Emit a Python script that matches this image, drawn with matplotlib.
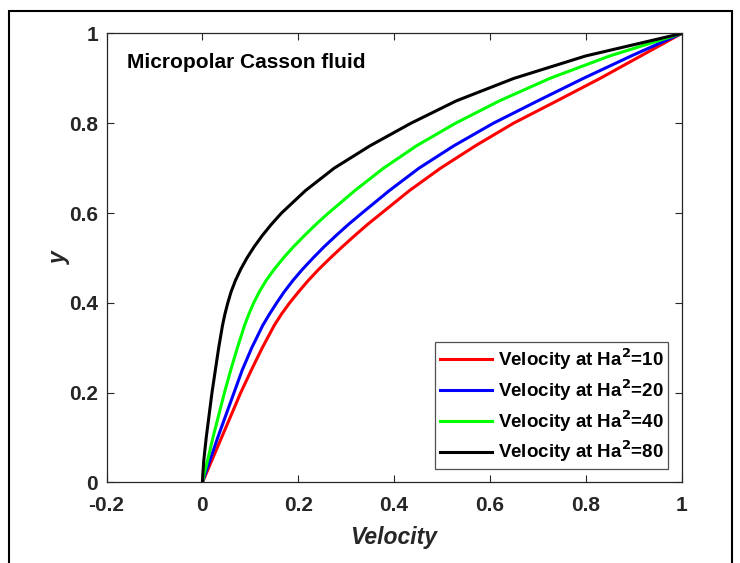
import matplotlib
matplotlib.use('Agg')
import matplotlib.pyplot as plt
from matplotlib.patches import Rectangle

plt.rcParams['font.family'] = ['Liberation Sans', 'DejaVu Sans']
plt.rcParams['font.weight'] = 'bold'

# y positions (vertical axis) at which velocities were read
y_vals = [0.0, 0.02, 0.05, 0.1, 0.15, 0.2, 0.25, 0.3, 0.35, 0.375, 0.4, 0.425, 0.45,
          0.475, 0.5, 0.525, 0.55, 0.575, 0.6, 0.65, 0.7, 0.75, 0.8, 0.85, 0.9, 0.95, 1.0]

# velocity profiles for each Hartmann number
vel_ha10 = [0.0, 0.008, 0.020, 0.040, 0.060, 0.080, 0.102, 0.125, 0.150, 0.165, 0.182, 0.201,
            0.221, 0.243, 0.267, 0.292, 0.318, 0.345, 0.374, 0.432, 0.497, 0.570, 0.649,
            0.740, 0.830, 0.915, 1.0]
vel_ha20 = [0.0, 0.006, 0.016, 0.032, 0.049, 0.066, 0.083, 0.103, 0.126, 0.140, 0.155, 0.171,
            0.189, 0.209, 0.231, 0.254, 0.279, 0.305, 0.333, 0.390, 0.452, 0.525, 0.607,
            0.700, 0.795, 0.895, 1.0]
vel_ha40 = [0.0, 0.004, 0.011, 0.022, 0.034, 0.046, 0.059, 0.073, 0.088, 0.097, 0.107, 0.119,
            0.133, 0.150, 0.169, 0.190, 0.213, 0.237, 0.263, 0.318, 0.378, 0.447, 0.528,
            0.620, 0.725, 0.850, 1.0]
vel_ha80 = [0.0, 0.001, 0.003, 0.008, 0.014, 0.020, 0.027, 0.034, 0.042, 0.047, 0.053, 0.060,
            0.069, 0.080, 0.093, 0.108, 0.125, 0.144, 0.165, 0.215, 0.275, 0.350, 0.435,
            0.530, 0.650, 0.800, 1.0]

labels = ['Velocity at Ha$^{\\mathbf{2}}$=10', 'Velocity at Ha$^{\\mathbf{2}}$=20',
          'Velocity at Ha$^{\\mathbf{2}}$=40', 'Velocity at Ha$^{\\mathbf{2}}$=80']
colors = ['#ff0000', '#0000ff', '#00ff00', '#000000']

x_ticks = [-0.2, 0, 0.2, 0.4, 0.6, 0.8, 1]
x_tick_labels = ['-0.2', '0', '0.2', '0.4', '0.6', '0.8', '1']
y_ticks = [0, 0.2, 0.4, 0.6, 0.8, 1]
y_tick_labels = ['0', '0.2', '0.4', '0.6', '0.8', '1']

fig = plt.figure(figsize=(7.4, 5.63), dpi=100)
ax = fig.add_axes([0.144, 0.143, 0.777, 0.7975])

for vel, lab, col in zip([vel_ha10, vel_ha20, vel_ha40, vel_ha80], labels, colors):
    ax.plot(vel, y_vals, color=col, linewidth=2.2, label=lab)

ax.set_xlim(-0.2, 1)
ax.set_ylim(0, 1)
ax.set_xticks(x_ticks)
ax.set_xticklabels(x_tick_labels)
ax.set_yticks(y_ticks)
ax.set_yticklabels(y_tick_labels)
ax.tick_params(direction='in', length=5, width=0.8, color='#262626',
               top=True, right=True, labelsize=15)
ax.tick_params(axis='x', pad=10)
ax.tick_params(axis='y', pad=6)
for lbl in ax.get_xticklabels() + ax.get_yticklabels():
    lbl.set_fontweight('bold')
    lbl.set_color('#262626')
for sp in ax.spines.values():
    sp.set_color('#262626')
    sp.set_linewidth(0.9)

ax.set_xlabel('Velocity', fontsize=16.5, fontweight='bold', style='italic',
              color='#262626', labelpad=8)
ax.set_ylabel('y', fontsize=16.5, fontweight='bold', style='italic',
              color='#262626', labelpad=-1)

ax.text(0.035, 0.935, 'Micropolar Casson fluid', transform=ax.transAxes,
        fontsize=15, fontweight='bold', va='center', ha='left')

leg = ax.legend(loc='lower right', fontsize=13.5, frameon=True, fancybox=False,
                edgecolor='#262626', handlelength=2.8, handletextpad=0.27,
                borderaxespad=0.72, borderpad=0.25, labelspacing=0.28)
leg.get_frame().set_linewidth(0.9)
for t in leg.get_texts():
    t.set_fontweight('bold')

# outer frame around the whole figure
fig.patches.append(Rectangle((8.5 / 740, -0.01), 723 / 740, 1 - 11 / 563 + 0.01,
                             transform=fig.transFigure, fill=False,
                             edgecolor='black', linewidth=1.5))

fig.savefig('out.png', dpi=100)
